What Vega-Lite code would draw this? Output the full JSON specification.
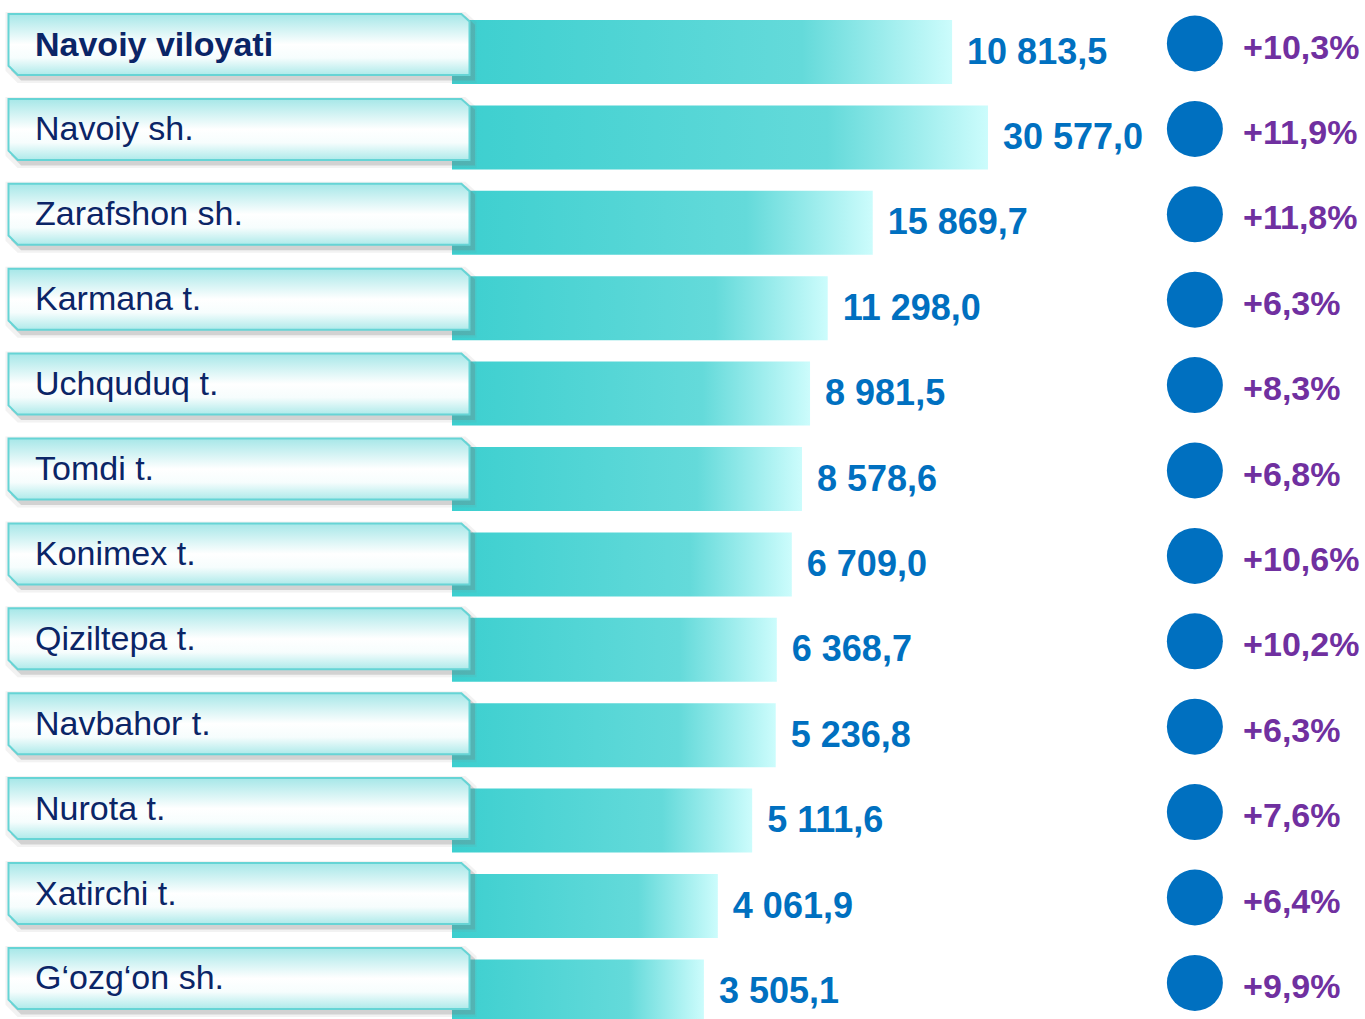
{
  "$schema": "https://vega.github.io/schema/vega-lite/v6.json",
  "width": 1365,
  "height": 1019,
  "padding": 0,
  "autosize": {"type": "none"},
  "background": "#ffffff",
  "config": {
    "view": {"stroke": null},
    "locale": {"number": {"decimal": ",", "thousands": " ", "grouping": [3], "currency": ["", ""]}},
    "text": {"font": "Liberation Sans"}
  },
  "data": {
    "values": [
      {"label": "Navoiy viloyati", "value": 10813.5, "growth": 0.103, "len": 93.3},
      {"label": "Navoiy sh.", "value": 30577.0, "growth": 0.119, "len": 100},
      {"label": "Zarafshon sh.", "value": 15869.7, "growth": 0.118, "len": 78.5},
      {"label": "Karmana t.", "value": 11298.0, "growth": 0.063, "len": 70.1},
      {"label": "Uchquduq t.", "value": 8981.5, "growth": 0.083, "len": 66.8},
      {"label": "Tomdi t.", "value": 8578.6, "growth": 0.068, "len": 65.3},
      {"label": "Konimex t.", "value": 6709.0, "growth": 0.106, "len": 63.4},
      {"label": "Qiziltepa t.", "value": 6368.7, "growth": 0.102, "len": 60.6},
      {"label": "Navbahor t.", "value": 5236.8, "growth": 0.063, "len": 60.4},
      {"label": "Nurota t.", "value": 5111.6, "growth": 0.076, "len": 56.0},
      {"label": "Xatirchi t.", "value": 4061.9, "growth": 0.064, "len": 49.6},
      {"label": "G‘ozg‘on sh.", "value": 3505.1, "growth": 0.099, "len": 47.0}
    ]
  },
  "resolve": {"scale": {"y": "independent"}},
  "layer": [
    {
      "mark": {"type": "bar", "cornerRadius": 0,
        "color": {"gradient": "linear", "x1": 0, "y1": 0, "x2": 1, "y2": 0,
          "stops": [{"offset": 0, "color": "#3CCFCF"}, {"offset": 0.7, "color": "#64DADA"}, {"offset": 1, "color": "#CCFCFC"}]}},
      "encoding": {
        "y": {"field": "label", "type": "nominal", "sort": null, "axis": null,
          "scale": {"type": "band", "range": [20, 1023.4], "paddingInner": 0.2506, "paddingOuter": 0}},
        "x": {"field": "len", "type": "quantitative", "axis": null,
          "scale": {"domain": [-84.33, 170.34], "zero": false, "nice": false}},
        "x2": {"datum": 0}
      }
    },
    {
      "mark": {"type": "point", "filled": true,
        "shape": "M -1 -0.1323 L 0.965 -0.1323 L 1 -0.1 L 1 0.1323 L -0.96 0.1323 L -1 0.0923 Z",
        "size": 212521, "color": "#888888", "opacity": 0.1, "stroke": "#888888", "strokeWidth": 10, "xOffset": 2, "yOffset": 3},
      "encoding": {
        "y": {"field": "label", "type": "nominal", "sort": null, "axis": null,
          "scale": {"type": "point", "range": [44.5, 978.4], "padding": 0}},
        "x": {"datum": -39.74, "type": "quantitative", "axis": null,
          "scale": {"domain": [-84.33, 170.34], "zero": false, "nice": false}}
      }
    },
    {
      "mark": {"type": "point", "filled": true,
        "shape": "M -1 -0.1323 L 0.965 -0.1323 L 1 -0.1 L 1 0.1323 L -0.96 0.1323 L -1 0.0923 Z",
        "size": 212521, "color": "#777777", "opacity": 0.25, "stroke": "#777777", "strokeWidth": 3, "xOffset": 4, "yOffset": 4},
      "encoding": {
        "y": {"field": "label", "type": "nominal", "sort": null, "axis": null,
          "scale": {"type": "point", "range": [44.5, 978.4], "padding": 0}},
        "x": {"datum": -39.74, "type": "quantitative", "axis": null,
          "scale": {"domain": [-84.33, 170.34], "zero": false, "nice": false}}
      }
    },
    {
      "mark": {"type": "point", "filled": true, "opacity": 1,
        "shape": "M -1 -0.1323 L 0.965 -0.1323 L 1 -0.1 L 1 0.1323 L -0.96 0.1323 L -1 0.0923 Z",
        "size": 212521,
        "fill": {"gradient": "linear", "x1": 0, "y1": 0, "x2": 0, "y2": 1,
          "stops": [{"offset": 0, "color": "#A6E7E8"}, {"offset": 0.5, "color": "#FFFFFF"}, {"offset": 0.72, "color": "#F6FDFD"}, {"offset": 1, "color": "#AEEAEA"}]},
        "stroke": "#66D4D5", "strokeWidth": 2},
      "encoding": {
        "y": {"field": "label", "type": "nominal", "sort": null, "axis": null,
          "scale": {"type": "point", "range": [44.5, 978.4], "padding": 0}},
        "x": {"datum": -39.74, "type": "quantitative", "axis": null,
          "scale": {"domain": [-84.33, 170.34], "zero": false, "nice": false}}
      }
    },
    {
      "mark": {"type": "text", "align": "left", "baseline": "middle", "fontSize": 34, "color": "#0B2567", "dy": 1},
      "encoding": {
        "y": {"field": "label", "type": "nominal", "sort": null, "axis": null,
          "scale": {"type": "point", "range": [44.5, 978.4], "padding": 0}},
        "x": {"datum": -77.8, "type": "quantitative", "axis": null,
          "scale": {"domain": [-84.33, 170.34], "zero": false, "nice": false}},
        "text": {"condition": {"test": "datum.label !== 'Navoiy viloyati'", "field": "label"}, "value": ""}
      }
    },
    {
      "mark": {"type": "text", "align": "left", "baseline": "middle", "fontSize": 34, "fontWeight": "bold", "color": "#0B2567", "dy": 1},
      "encoding": {
        "y": {"field": "label", "type": "nominal", "sort": null, "axis": null,
          "scale": {"type": "point", "range": [44.5, 978.4], "padding": 0}},
        "x": {"datum": -77.8, "type": "quantitative", "axis": null,
          "scale": {"domain": [-84.33, 170.34], "zero": false, "nice": false}},
        "text": {"condition": {"test": "datum.label === 'Navoiy viloyati'", "field": "label"}, "value": ""}
      }
    },
    {
      "mark": {"type": "text", "align": "left", "baseline": "middle", "fontSize": 36, "fontWeight": "bold", "color": "#0070C0", "dx": 15, "dy": 1},
      "encoding": {
        "y": {"field": "label", "type": "nominal", "sort": null, "axis": null,
          "scale": {"type": "point", "range": [51.5, 990.9], "padding": 0}},
        "x": {"field": "len", "type": "quantitative", "axis": null,
          "scale": {"domain": [-84.33, 170.34], "zero": false, "nice": false}},
        "text": {"field": "value", "type": "quantitative", "format": ",.1f"}
      }
    },
    {
      "mark": {"type": "point", "filled": true, "shape": "circle", "size": 3136, "color": "#0070C0", "opacity": 1, "yOffset": -8},
      "encoding": {
        "y": {"field": "label", "type": "nominal", "sort": null, "axis": null,
          "scale": {"type": "point", "range": [51.5, 990.9], "padding": 0}},
        "x": {"datum": 138.6, "type": "quantitative", "axis": null,
          "scale": {"domain": [-84.33, 170.34], "zero": false, "nice": false}}
      }
    },
    {
      "mark": {"type": "text", "align": "left", "baseline": "middle", "fontSize": 34, "fontWeight": "bold", "color": "#7030A0", "dy": -3},
      "encoding": {
        "y": {"field": "label", "type": "nominal", "sort": null, "axis": null,
          "scale": {"type": "point", "range": [51.5, 990.9], "padding": 0}},
        "x": {"datum": 147.6, "type": "quantitative", "axis": null,
          "scale": {"domain": [-84.33, 170.34], "zero": false, "nice": false}},
        "text": {"field": "growth", "type": "quantitative", "format": "+.1%"}
      }
    }
  ]
}
